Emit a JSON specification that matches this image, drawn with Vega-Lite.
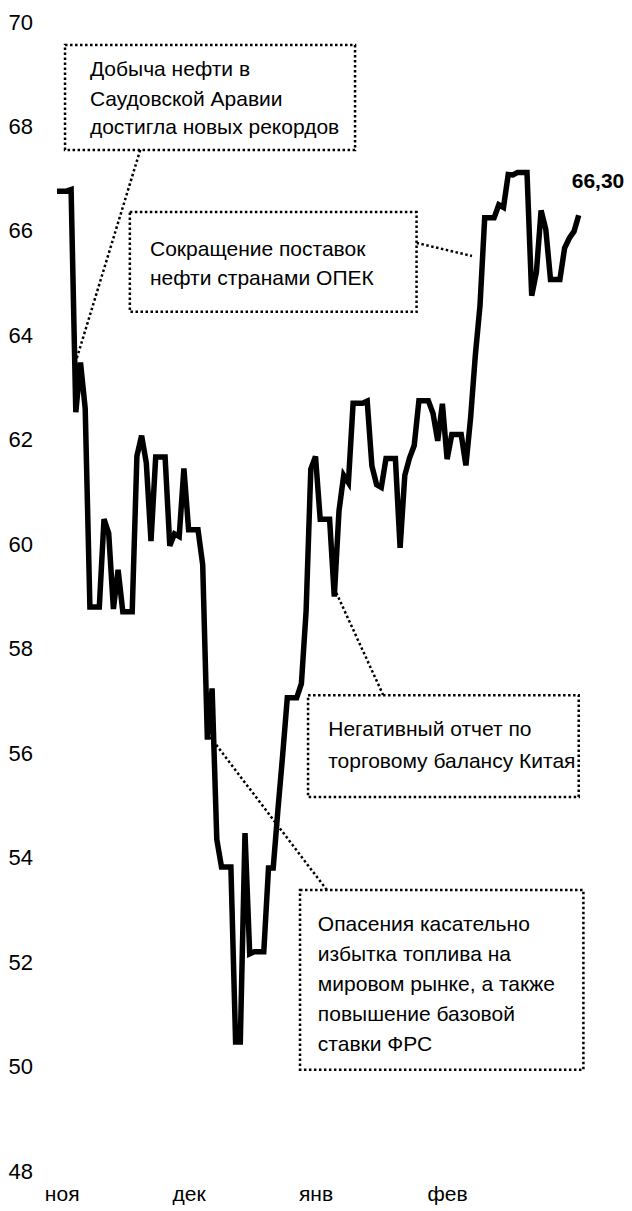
{
  "$schema": "https://vega.github.io/schema/vega-lite/v6.json",
  "width": 560,
  "height": 1149,
  "autosize": {"type": "none"},
  "padding": {"left": 40, "top": 22, "right": 32, "bottom": 40},
  "background": "white",
  "config": {
    "view": {"stroke": null},
    "font": "Liberation Sans",
    "text": {"font": "Liberation Sans"}
  },
  "datasets": {
    "prices": [
      {"date": "2018-11-16", "price": 66.76}, {"date": "2018-11-17", "price": 66.76}, {"date": "2018-11-18", "price": 66.76},
      {"date": "2018-11-19", "price": 66.79}, {"date": "2018-11-20", "price": 62.53}, {"date": "2018-11-21", "price": 63.48},
      {"date": "2018-11-22", "price": 62.60}, {"date": "2018-11-23", "price": 58.80}, {"date": "2018-11-24", "price": 58.80},
      {"date": "2018-11-25", "price": 58.80}, {"date": "2018-11-26", "price": 60.48}, {"date": "2018-11-27", "price": 60.21},
      {"date": "2018-11-28", "price": 58.76}, {"date": "2018-11-29", "price": 59.51}, {"date": "2018-11-30", "price": 58.71},
      {"date": "2018-12-01", "price": 58.71}, {"date": "2018-12-02", "price": 58.71}, {"date": "2018-12-03", "price": 61.69},
      {"date": "2018-12-04", "price": 62.08}, {"date": "2018-12-05", "price": 61.56}, {"date": "2018-12-06", "price": 60.06},
      {"date": "2018-12-07", "price": 61.67}, {"date": "2018-12-08", "price": 61.67}, {"date": "2018-12-09", "price": 61.67},
      {"date": "2018-12-10", "price": 59.97}, {"date": "2018-12-11", "price": 60.20}, {"date": "2018-12-12", "price": 60.15},
      {"date": "2018-12-13", "price": 61.45}, {"date": "2018-12-14", "price": 60.28}, {"date": "2018-12-15", "price": 60.28},
      {"date": "2018-12-16", "price": 60.28}, {"date": "2018-12-17", "price": 59.61}, {"date": "2018-12-18", "price": 56.26},
      {"date": "2018-12-19", "price": 57.24}, {"date": "2018-12-20", "price": 54.35}, {"date": "2018-12-21", "price": 53.82},
      {"date": "2018-12-22", "price": 53.82}, {"date": "2018-12-23", "price": 53.82}, {"date": "2018-12-24", "price": 50.47},
      {"date": "2018-12-25", "price": 50.47}, {"date": "2018-12-26", "price": 54.47}, {"date": "2018-12-27", "price": 52.16},
      {"date": "2018-12-28", "price": 52.20}, {"date": "2018-12-29", "price": 52.20}, {"date": "2018-12-30", "price": 52.20},
      {"date": "2018-12-31", "price": 53.80}, {"date": "2019-01-01", "price": 53.80}, {"date": "2019-01-02", "price": 54.91},
      {"date": "2019-01-03", "price": 55.95}, {"date": "2019-01-04", "price": 57.06}, {"date": "2019-01-05", "price": 57.06},
      {"date": "2019-01-06", "price": 57.06}, {"date": "2019-01-07", "price": 57.33}, {"date": "2019-01-08", "price": 58.72},
      {"date": "2019-01-09", "price": 61.44}, {"date": "2019-01-10", "price": 61.68}, {"date": "2019-01-11", "price": 60.48},
      {"date": "2019-01-12", "price": 60.48}, {"date": "2019-01-13", "price": 60.48}, {"date": "2019-01-14", "price": 59.00},
      {"date": "2019-01-15", "price": 60.64}, {"date": "2019-01-16", "price": 61.32}, {"date": "2019-01-17", "price": 61.18},
      {"date": "2019-01-18", "price": 62.70}, {"date": "2019-01-19", "price": 62.70}, {"date": "2019-01-20", "price": 62.70},
      {"date": "2019-01-21", "price": 62.74}, {"date": "2019-01-22", "price": 61.50}, {"date": "2019-01-23", "price": 61.14},
      {"date": "2019-01-24", "price": 61.09}, {"date": "2019-01-25", "price": 61.64}, {"date": "2019-01-26", "price": 61.64},
      {"date": "2019-01-27", "price": 61.64}, {"date": "2019-01-28", "price": 59.93}, {"date": "2019-01-29", "price": 61.32},
      {"date": "2019-01-30", "price": 61.65}, {"date": "2019-01-31", "price": 61.89}, {"date": "2019-02-01", "price": 62.75},
      {"date": "2019-02-02", "price": 62.75}, {"date": "2019-02-03", "price": 62.75}, {"date": "2019-02-04", "price": 62.51},
      {"date": "2019-02-05", "price": 61.98}, {"date": "2019-02-06", "price": 62.69}, {"date": "2019-02-07", "price": 61.63},
      {"date": "2019-02-08", "price": 62.10}, {"date": "2019-02-09", "price": 62.10}, {"date": "2019-02-10", "price": 62.10},
      {"date": "2019-02-11", "price": 61.51}, {"date": "2019-02-12", "price": 62.42}, {"date": "2019-02-13", "price": 63.61},
      {"date": "2019-02-14", "price": 64.57}, {"date": "2019-02-15", "price": 66.25}, {"date": "2019-02-16", "price": 66.25},
      {"date": "2019-02-17", "price": 66.25}, {"date": "2019-02-18", "price": 66.50}, {"date": "2019-02-19", "price": 66.45},
      {"date": "2019-02-20", "price": 67.08}, {"date": "2019-02-21", "price": 67.07}, {"date": "2019-02-22", "price": 67.12},
      {"date": "2019-02-23", "price": 67.12}, {"date": "2019-02-24", "price": 67.12}, {"date": "2019-02-25", "price": 64.76},
      {"date": "2019-02-26", "price": 65.21}, {"date": "2019-02-27", "price": 66.39}, {"date": "2019-02-28", "price": 66.03},
      {"date": "2019-03-01", "price": 65.07}, {"date": "2019-03-02", "price": 65.07}, {"date": "2019-03-03", "price": 65.07},
      {"date": "2019-03-04", "price": 65.67}, {"date": "2019-03-05", "price": 65.86}, {"date": "2019-03-06", "price": 65.99},
      {"date": "2019-03-07", "price": 66.30}
    ],
    "boxes": [
      {"x1": "2018-11-17T17:00:00Z", "x2": "2019-01-18T10:00:00Z", "y1": 67.55, "y2": 69.56},
      {"x1": "2018-12-01T12:00:00Z", "x2": "2019-01-31T12:00:00Z", "y1": 64.45, "y2": 66.36},
      {"x1": "2019-01-08T10:00:00Z", "x2": "2019-03-07T00:00:00Z", "y1": 55.16, "y2": 57.11},
      {"x1": "2019-01-06T17:00:00Z", "x2": "2019-03-08T00:00:00Z", "y1": 49.94, "y2": 53.38}
    ],
    "leaders": [
      {"x1": "2018-12-03T17:00:00Z", "y1": 67.55, "x2": "2018-11-19T20:00:00Z", "y2": 63.45},
      {"x1": "2019-01-31T12:00:00Z", "y1": 65.77, "x2": "2019-02-12T07:00:00Z", "y2": 65.52},
      {"x1": "2019-01-24T10:00:00Z", "y1": 57.11, "x2": "2019-01-14T03:00:00Z", "y2": 59.13},
      {"x1": "2019-01-12T10:00:00Z", "y1": 53.38, "x2": "2018-12-17T20:00:00Z", "y2": 56.4}
    ],
    "notes": [
      {"x": "2018-11-23T00:00:00Z", "y": 69.08, "t": "Добыча нефти в"},
      {"x": "2018-11-23T00:00:00Z", "y": 68.51, "t": "Саудовской Аравии"},
      {"x": "2018-11-23T00:00:00Z", "y": 67.97, "t": "достигла новых рекордов"},
      {"x": "2018-12-05T19:00:00Z", "y": 65.63, "t": "Сокращение поставок"},
      {"x": "2018-12-05T19:00:00Z", "y": 65.08, "t": "нефти странами ОПЕК"},
      {"x": "2019-01-12T17:00:00Z", "y": 56.44, "t": "Негативный отчет по"},
      {"x": "2019-01-12T17:00:00Z", "y": 55.83, "t": "торговому балансу Китая"},
      {"x": "2019-01-10T12:00:00Z", "y": 52.71, "t": "Опасения касательно"},
      {"x": "2019-01-10T12:00:00Z", "y": 52.14, "t": "избытка топлива на"},
      {"x": "2019-01-10T12:00:00Z", "y": 51.56, "t": "мировом рынке, а также"},
      {"x": "2019-01-10T12:00:00Z", "y": 50.99, "t": "повышение базовой"},
      {"x": "2019-01-10T12:00:00Z", "y": 50.41, "t": "ставки ФРС"}
    ],
    "last": [
      {"date": "2019-03-07", "price": 66.30, "label": "66,30"}
    ]
  },
  "layer": [
    {
      "data": {"name": "leaders"},
      "mark": {"type": "rule", "color": "black", "strokeWidth": 2.5, "strokeDash": [2.5, 2.5]},
      "encoding": {
        "x": {"field": "x1", "type": "temporal"},
        "x2": {"field": "x2"},
        "y": {"field": "y1", "type": "quantitative"},
        "y2": {"field": "y2"}
      }
    },
    {
      "data": {"name": "prices"},
      "mark": {"type": "line", "color": "black", "strokeWidth": 5.5, "strokeJoin": "miter"},
      "encoding": {
        "x": {
          "field": "date", "type": "temporal",
          "scale": {"type": "utc", "domain": [
            {"year": 2018, "month": 11, "date": 12, "hours": 9, "minutes": 11, "utc": true},
            {"year": 2019, "month": 3, "date": 11, "hours": 12, "minutes": 46, "utc": true}
          ]},
          "axis": {
            "title": null, "domain": false, "ticks": false, "tickSize": 0, "grid": false,
            "values": [
              {"year": 2018, "month": 11, "date": 17, "utc": true},
              {"year": 2018, "month": 12, "date": 14, "utc": true},
              {"year": 2019, "month": 1, "date": 10, "utc": true},
              {"year": 2019, "month": 2, "date": 7, "utc": true}
            ],
            "labelExpr": "['янв','фев','мар','апр','май','июн','июл','авг','сен','окт','ноя','дек'][utcmonth(datum.value)]",
            "labelFont": "Liberation Sans", "labelFontSize": 21, "labelColor": "black",
            "labelPadding": 12, "labelBaseline": "top", "labelAlign": "center", "labelFlush": false, "labelOverlap": false
          }
        },
        "y": {
          "field": "price", "type": "quantitative",
          "scale": {"domain": [48, 70], "nice": false, "zero": false},
          "axis": {
            "title": null, "domain": false, "ticks": false, "tickSize": 0, "grid": false,
            "values": [48, 50, 52, 54, 56, 58, 60, 62, 64, 66, 68, 70],
            "labelFont": "Liberation Sans", "labelFontSize": 22, "labelColor": "black",
            "labelAlign": "left", "labelBaseline": "middle", "labelPadding": 32, "labelFlush": false, "labelOverlap": false
          }
        }
      }
    },
    {
      "data": {"name": "boxes"},
      "mark": {"type": "rect", "fill": "white", "stroke": "black", "strokeWidth": 2.5, "strokeDash": [2.5, 2.5]},
      "encoding": {
        "x": {"field": "x1", "type": "temporal"},
        "x2": {"field": "x2"},
        "y": {"field": "y1", "type": "quantitative"},
        "y2": {"field": "y2"}
      }
    },
    {
      "data": {"name": "notes"},
      "mark": {"type": "text", "align": "left", "baseline": "middle", "fontSize": 21, "font": "Liberation Sans", "color": "black"},
      "encoding": {
        "x": {"field": "x", "type": "temporal"},
        "y": {"field": "y", "type": "quantitative"},
        "text": {"field": "t"}
      }
    },
    {
      "data": {"name": "last"},
      "mark": {"type": "text", "align": "left", "baseline": "alphabetic", "dx": -7, "dy": -27, "fontSize": 21, "fontWeight": "bold", "font": "Liberation Sans", "color": "black"},
      "encoding": {
        "x": {"field": "date", "type": "temporal"},
        "y": {"field": "price", "type": "quantitative"},
        "text": {"field": "label"}
      }
    }
  ]
}
